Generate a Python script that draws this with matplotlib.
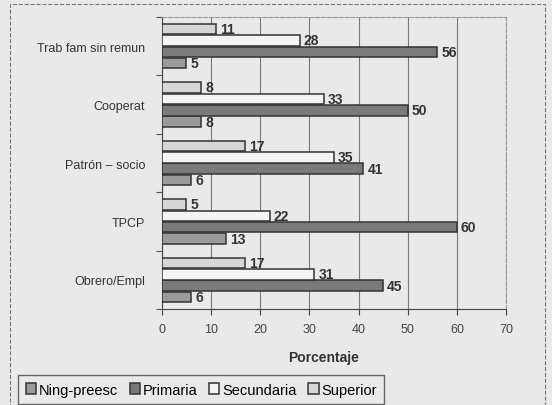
import numpy as np
import matplotlib
matplotlib.use("Agg")
import matplotlib.pyplot as plt
from matplotlib.patches import Rectangle

plt.rcParams['font.family'] = ['Liberation Sans', 'DejaVu Sans']

# categories from bottom to top
categorias = ['Obrero/Empl', 'TPCP', 'Patrón – socio', 'Cooperat', 'Trab fam sin remun']
ning_preesc = [6, 13, 6, 8, 5]
primaria = [45, 60, 41, 50, 56]
secundaria = [31, 22, 35, 33, 28]
superior = [17, 5, 17, 8, 11]

series = [
    ('Ning-preesc', ning_preesc, '#9a9a9a'),
    ('Primaria', primaria, '#7a7a7a'),
    ('Secundaria', secundaria, '#f4f4f4'),
    ('Superior', superior, '#d6d6d6'),
]

bg = '#e9e9e9'
fig = plt.figure(figsize=(5.52, 4.06), dpi=100, facecolor=bg)
ax = fig.add_axes([0.293, 0.236, 0.624, 0.72])
ax.set_facecolor(bg)

y = np.arange(len(categorias))
h = 0.18
step = 0.195
offsets = [-1.5 * step, -0.5 * step, 0.5 * step, 1.5 * step]

for (nombre, vals, color), off in zip(series, offsets):
    bars = ax.barh(y + off, vals, height=h, color=color, edgecolor='#333333',
                   linewidth=1.1, label=nombre, zorder=3)
    for b, v in zip(bars, vals):
        ax.text(b.get_width() + 0.8, b.get_y() + b.get_height() / 2, str(v),
                va='center', ha='left', fontsize=10, fontweight='bold', color='#333333')

ax.set_xlim(0, 70)
ax.set_ylim(-0.5, len(categorias) - 0.5)
ax.set_xticks(range(0, 71, 10))
ax.set_yticks(np.arange(-0.5, len(categorias), 1), minor=False)
ax.set_yticklabels([])
ax.set_yticks(y, minor=True)
ax.set_yticklabels(categorias, minor=True, fontsize=9, color='#333333')
ax.tick_params(axis='y', which='minor', length=0, pad=12)
ax.tick_params(axis='y', which='major', length=4, color='#555555')
ax.tick_params(axis='x', labelsize=9, colors='#444444', length=4, pad=6)
ax.grid(axis='x', color='#7a7a7a', linewidth=0.8, zorder=0)
ax.set_xlabel('Porcentaje', fontsize=10, fontweight='bold', color='#333333', labelpad=9)
ax.xaxis.set_label_coords(0.47, -0.14)

for s in ['top', 'right']:
    ax.spines[s].set_color('#9a9a9a')
    ax.spines[s].set_linestyle('--')
    ax.spines[s].set_linewidth(0.8)
for s in ['left', 'bottom']:
    ax.spines[s].set_color('#444444')

handles, labels = ax.get_legend_handles_labels()
leg = fig.legend(handles, labels, loc='lower left', bbox_to_anchor=(0.02, -0.015),
                 ncol=4, fontsize=10.5, frameon=True, fancybox=False,
                 handlelength=0.7, handleheight=0.7, handletextpad=0.2,
                 columnspacing=0.8, borderpad=0.5)
leg.get_frame().set_edgecolor('#444444')
leg.get_frame().set_facecolor(bg)

fig.patches.append(Rectangle((0.018, -0.02), 0.97, 1.007, transform=fig.transFigure,
                             fill=False, edgecolor='#777777', linestyle='--', linewidth=0.8))

fig.savefig('out.png', dpi=100, facecolor=bg)
